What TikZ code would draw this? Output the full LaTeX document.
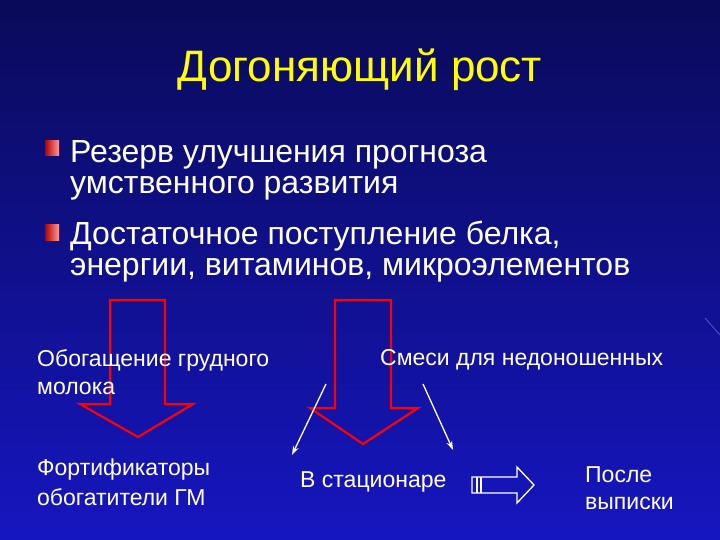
\documentclass[tikz,border=0pt]{standalone}
\usepackage{fontspec}
\setmainfont{Liberation Sans}
\usetikzlibrary{arrows.meta}
\definecolor{bgA}{HTML}{0A0A5A}
\definecolor{bgB}{HTML}{1616C0}
\definecolor{ttl}{HTML}{FFFF00}
\tikzset{
  big/.style={draw=red, line width=2.2pt, line join=miter},
  wl/.style={draw=white, line width=1.3pt, -{Stealth[length=9pt,width=6pt]}},
  lbl/.style={text=white, anchor=west, inner sep=0pt, font=\fontsize{23}{26}\selectfont},
  blt/.style={text=white, anchor=west, inner sep=0pt, font=\fontsize{32}{36}\selectfont},
}
\begin{document}
\begin{tikzpicture}[x=1pt,y=-1pt]
\shade[top color=bgA, bottom color=bgB] (0,0) rectangle (720,540);
\useasboundingbox (0,0) rectangle (720,540);
\draw[white!60!blue, opacity=0.5, line width=0.8pt] (705,318) -- (720,335);
\node[text=ttl, font=\fontsize{44}{50}\selectfont] (title) at (360,70) {Догоняющий рост};
\foreach \n/\y in {b1/150,b2/234}{
  \shade[left color=red!70!black, right color=red!40!white] (45,\y-9) rectangle (59,\y+6) coordinate (\n);
}
\node[blt] (t1) at (70,155) {Резерв улучшения прогноза};
\node[blt] (t2) at (70,188) {умственного развития};
\node[blt] (t3) at (70,236) {Достаточное поступление белка,};
\node[blt] (t4) at (70,270) {энергии, витаминов, микроэлементов};
\draw[big] (110,300) -- (165,300) -- (165,404) -- (193,404) -- (138,437) -- (80,404) -- (110,404) -- cycle;
\draw[big] (335,300) -- (391,300) -- (391,408) -- (418,408) -- (363,444) -- (310,408) -- (335,408) -- cycle;
\node[lbl] (l1) at (37,360) {Обогащение грудного};
\node[lbl] (l2) at (37,388) {молока};
\node[lbl] (r1) at (380,360) {Смеси для недоношенных};
\node[lbl] (f1) at (37,470) {Фортификаторы};
\node[lbl] (f2) at (37,497) {обогатители ГМ};
\node[lbl] (st) at (300,482) {В стационаре};
\node[lbl] (p1) at (585,475) {После};
\node[lbl] (p2) at (585,503) {выписки};
\coordinate (s1) at (326,384); \coordinate (e1) at (292,455);
\coordinate (s2) at (423,384); \coordinate (e2) at (453,450);
\draw[wl] (s1) -- (e1);
\draw[wl] (s2) -- (e2);
\draw[white, line width=1.3pt] (472,477) -- (517,477) -- (517,467) -- (534,485) -- (517,503) -- (517,493) -- (472,493) -- cycle;
\draw[white, line width=1.3pt] (477,477) -- (477,493) (481,477) -- (481,493);
\end{tikzpicture}
\end{document}
